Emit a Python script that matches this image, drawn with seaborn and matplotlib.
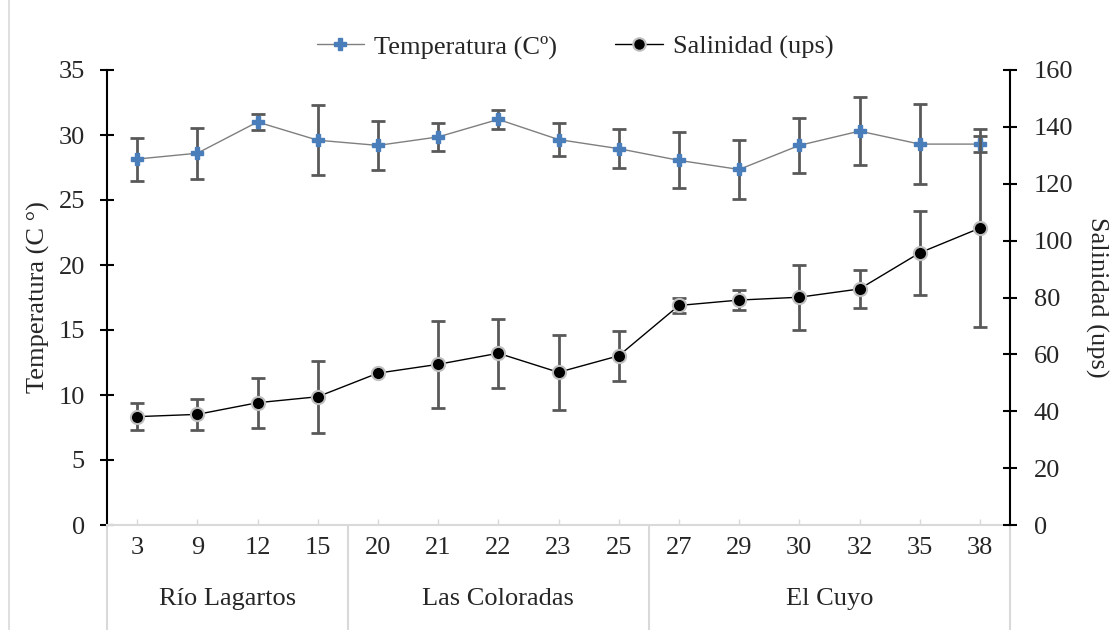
import matplotlib
matplotlib.use("Agg")
import matplotlib.pyplot as plt
import matplotlib.transforms as mtransforms
from matplotlib.patches import Rectangle
from matplotlib.lines import Line2D
import seaborn as sns
import pandas as pd
import numpy as np

# ---- data ----
sites = ['3', '9', '12', '15', '20', '21', '22', '23', '25', '27', '29', '30', '32', '35', '38']
groups = ['Río Lagartos', 'Las Coloradas', 'El Cuyo']
group_sizes = [4, 5, 6]
temp = [28.15, 28.6, 31.0, 29.6, 29.2, 29.85, 31.2, 29.65, 28.95, 28.05, 27.35, 29.2, 30.3, 29.3, 29.3]
temp_err = [1.65, 1.95, 0.65, 2.7, 1.9, 1.1, 0.7, 1.25, 1.5, 2.15, 2.25, 2.1, 2.6, 3.05, 0.6]
sal = [38.1, 38.9, 43.0, 45.1, 53.4, 56.5, 60.4, 53.7, 59.5, 77.2, 79.1, 80.1, 83.0, 95.7, 104.4]
sal_err = [4.8, 5.5, 8.8, 12.6, 0.0, 15.3, 12.1, 13.2, 8.7, 2.7, 3.5, 11.4, 6.6, 14.8, 34.7]

temp_label = 'Temperatura (Cº)'
sal_label = 'Salinidad (ups)'

sns.set_theme(style='white')
plt.rcParams['font.family'] = ['Liberation Serif', 'DejaVu Serif']
FS = 19

df = pd.DataFrame({'site': sites, 'pos': np.arange(len(sites)),
                   'temp': temp, 'temp_err': temp_err,
                   'sal': sal, 'sal_err': sal_err})

fig = plt.figure(figsize=(11.17, 6.3), dpi=100)
ax = fig.add_axes([107/1117, 1-525/630, 903/1117, 455/630])
ax2 = ax.twinx()

blue = '#4a7ebb'
errc = '#595959'
TMS = 9

# temperature
ax.errorbar(df['pos'], df['temp'], yerr=df['temp_err'], fmt='none', ecolor=errc,
            elinewidth=2, capsize=5, capthick=2, zorder=2)
sns.lineplot(data=df, x='pos', y='temp', ax=ax, color='#7f7f7f', linewidth=1,
             marker='P', markersize=TMS, markerfacecolor=blue, markeredgecolor=blue,
             markeredgewidth=1.0, zorder=3, legend=False)

# salinity
ax2.errorbar(df['pos'], df['sal'], yerr=df['sal_err'], fmt='none', ecolor=errc,
             elinewidth=2, capsize=5, capthick=2, zorder=2)
sns.lineplot(data=df, x='pos', y='sal', ax=ax2, color='black', linewidth=1,
             marker='o', markersize=9.5, markerfacecolor='black', markeredgecolor='#bfbfbf',
             markeredgewidth=1.5, zorder=3, legend=False)

n = len(sites)
ax.set_xlim(-0.5, n - 0.5)
ax.set_ylim(0, 35)
ax2.set_ylim(0, 160)
ax.set_yticks(np.arange(0, 36, 5))
ax2.set_yticks(np.arange(0, 161, 20))
ax.set_xticks(df['pos'])
ax.set_xticklabels(sites)

for a in (ax, ax2):
    a.grid(False)
    a.set_facecolor('none')
    for s in a.spines.values():
        s.set_visible(False)

ax.spines['left'].set_visible(True)
ax.spines['left'].set_color('black')
ax.spines['left'].set_linewidth(1.5)
ax2.spines['right'].set_visible(True)
ax2.spines['right'].set_color('black')
ax2.spines['right'].set_linewidth(1.5)
ax.spines['bottom'].set_visible(True)
ax.spines['bottom'].set_color('#d9d9d9')
ax.spines['bottom'].set_linewidth(1.5)

ax.tick_params(axis='y', direction='inout', length=10, width=1.5, color='black',
               labelsize=FS, pad=11, left=True)
ax2.tick_params(axis='y', direction='inout', length=10, width=1.5, color='black',
                labelsize=FS, pad=12, right=True)
ax.tick_params(axis='x', direction='in', length=4, width=1, color='#d9d9d9',
               labelsize=FS, pad=9, bottom=True)

ax.set_xlabel('')
ax.set_ylabel('Temperatura (C °)', fontsize=FS, va='center')
ax.yaxis.set_label_coords(-0.0764, 0.5)
ax2.set_ylabel(sal_label, fontsize=FS, rotation=270, va='center')
ax2.yaxis.set_label_coords(1.0963, 0.5)

# category group labels and separators
trans = mtransforms.blended_transform_factory(ax.transData, ax.transAxes)
bounds = np.concatenate([[0], np.cumsum(group_sizes)]) - 0.5
for i, g in enumerate(groups):
    mid = (bounds[i] + bounds[i + 1]) / 2
    ax.text(mid, -0.162, g, transform=trans, ha='center', va='center', fontsize=FS)
for b in bounds:
    ax.add_line(Line2D([b, b], [0, -0.3], transform=trans, color='#d9d9d9',
                       linewidth=1.5, clip_on=False))

# legend
h1 = Line2D([], [], color='#7f7f7f', linewidth=1, marker='P', markersize=TMS,
            markerfacecolor=blue, markeredgecolor=blue)
h2 = Line2D([], [], color='black', linewidth=1, marker='o', markersize=9,
            markerfacecolor='black', markeredgecolor='#bfbfbf', markeredgewidth=1.5)
fig.legend([h1, h2], [temp_label, sal_label], loc='center', ncol=2,
           bbox_to_anchor=(575/1117, 1 - 47/630), frameon=False, fontsize=FS,
           handlelength=1.8, columnspacing=2.2, handletextpad=0.38)

# chart area border
fig.patches.append(Rectangle((9/1117, -0.1), 1.2, 1.1 + (1 - 10/630),
                             transform=fig.transFigure, fill=False,
                             edgecolor='#d9d9d9', linewidth=1.2))

fig.savefig('out.png', dpi=100)
